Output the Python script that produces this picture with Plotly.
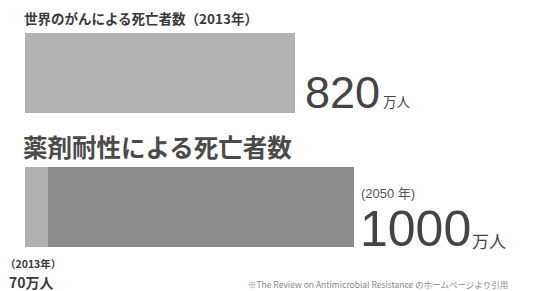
import plotly.graph_objects as go

# ---- data ----
categories = ["世界のがん", "薬剤耐性"]
cancer_2013 = [820, 0]          # 万人
amr_2013 = [0, 70]              # 万人
amr_2050 = [0, 1000]            # 万人
amr_increase = [0, 1000 - 70]

W, H = 538, 291
T, B = 6, 17
plot_h = H - T - B
def py(p):
    return (H - B - p) / plot_h

fig = go.Figure()
fig.add_trace(go.Bar(y=categories, x=cancer_2013, orientation="h",
                     marker=dict(color="#b3b3b3", line=dict(width=0)), showlegend=False, hoverinfo="skip"))
fig.add_trace(go.Bar(y=categories, x=amr_2013, orientation="h",
                     marker=dict(color="#b0b0b0", line=dict(width=0)), showlegend=False, hoverinfo="skip"))
fig.add_trace(go.Bar(y=categories, x=amr_increase, orientation="h",
                     marker=dict(color="#8b8b8b", line=dict(width=0)), showlegend=False, hoverinfo="skip"))

jp = "Noto Sans CJK JP, sans-serif"
num = "Liberation Sans, Noto Sans CJK JP, sans-serif"
dark = "#3a3a3a"
ann = []
def A(text, x, y, size, color=dark, xref="paper", xanchor="left", xshift=0, family=jp):
    ann.append(dict(text=text, x=x, y=y, xref=xref, yref="paper", xanchor=xanchor,
                    yanchor="middle", showarrow=False, xshift=xshift, borderpad=0,
                    font=dict(size=size, color=color, family=family)))

A("<b>世界のがんによる死亡者数（2013年）</b>", 23/W, py(18), 13.5)
A("<b>薬剤耐性による死亡者数</b>", 22/W, py(146), 24.5, color="#4a4a4a")
A("820", cancer_2013[0], py(92), 45, color="#444", xref="x", xshift=9, family=num)
A("万人", cancer_2013[0], py(101), 13.5, color="#444", xref="x", xshift=87, family=jp)
A("(2050 年)", amr_2050[1], py(193), 13, color="#555", xref="x", xshift=6, family=num)
A("1000", amr_2050[1], py(229), 50, color="#444", xref="x", xshift=5, family=num)
A("万人", amr_2050[1], py(240), 17, color="#444", xref="x", xshift=117, family=jp)
A("<b>（2013年）</b>", 4/W, py(263), 10.5)
A("<b>70万人</b>", 8/W, py(282), 14)
A("※The Review on Antimicrobial Resistance のホームページより引用", 509/W, py(284), 8.5,
  color="#888", xanchor="right")

fig.update_layout(
    width=W, height=H, barmode="stack", bargap=0.4,
    margin=dict(l=0, r=0, t=T, b=B),
    paper_bgcolor="white", plot_bgcolor="white",
    xaxis=dict(range=[-25/0.329, (W-25)/0.329], visible=False, fixedrange=True),
    yaxis=dict(autorange="reversed", visible=False, fixedrange=True),
    annotations=ann,
)
fig.write_html("out.html", config={"displayModeBar": False},
               post_script="document.body.style.margin='0';document.body.style.overflow='hidden';")
